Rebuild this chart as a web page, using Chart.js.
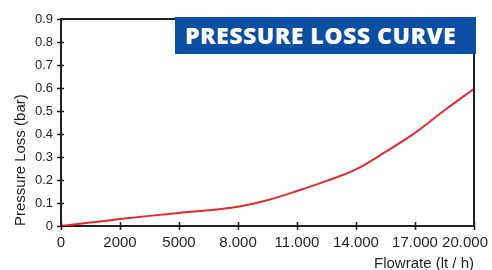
<!DOCTYPE html>
<html>
<head>
<meta charset="utf-8">
<script src="https://cdn.jsdelivr.net/npm/chart.js@4.4.0/dist/chart.umd.min.js"></script>
<style>
  html, body { margin: 0; padding: 0; background: #fff; }
  #wrap { position: relative; width: 492px; height: 270px; overflow: hidden; }
  #banner {
    position: absolute; left: 175px; top: 17px; width: 301px; height: 37px;
    background: #0b4ea2; color: #fff;
    font-family: "Open Sans", "Liberation Sans", sans-serif; font-weight: 800;
    font-size: 23px; letter-spacing: 0.5px; line-height: 37px; padding-left: 10px; box-sizing: border-box;
    white-space: nowrap;
  }
</style>
</head>
<body>
<div id="wrap">
  <canvas id="c" width="492" height="270"></canvas>
  <div id="banner">PRESSURE LOSS CURVE</div>
</div>
<script>
// Tick labels (evenly spaced positions 0..7 on the x axis)
const tickLabels = ["0", "2000", "5000", "8.000", "11.000", "14.000", "17.000", "20.000"];
// Curve points: position along the tick scale, and pressure loss (bar)
const curvePos  = [0, 0.5, 1, 1.5, 2, 2.5, 3, 3.5, 4, 4.5, 5, 5.5, 6, 6.5, 7];
const curveLoss = [0, 0.015, 0.030, 0.044, 0.057, 0.068, 0.084, 0.112, 0.152, 0.196, 0.246, 0.322, 0.405, 0.503, 0.597];

const axisColor = '#231f20';
const fontFamily = 'Liberation Sans, Arial, sans-serif';

const frameAndTicks = {
  id: 'frameAndTicks',
  afterDraw(chart) {
    const ctx = chart.ctx, a = chart.chartArea;
    const xs = chart.scales.x, ys = chart.scales.y;
    ctx.save();
    ctx.strokeStyle = axisColor;
    ctx.lineWidth = 2;
    ctx.beginPath();
    ctx.moveTo(a.left, a.top); ctx.lineTo(a.right, a.top); ctx.lineTo(a.right, a.bottom);
    ctx.stroke();
    ctx.lineWidth = 1.5;
    ctx.beginPath();
    xs.ticks.forEach(t => {
      const px = Math.round(xs.getPixelForValue(t.value)) + 0.5;
      ctx.moveTo(px, a.bottom - 4); ctx.lineTo(px, a.bottom + 4);
    });
    ys.ticks.forEach(t => {
      const py = Math.round(ys.getPixelForValue(t.value)) + 0.5;
      ctx.moveTo(a.left - 4, py); ctx.lineTo(a.left + 3, py);
    });
    ctx.stroke();
    // x tick labels, kept inside the picture
    ctx.fillStyle = axisColor;
    ctx.font = '15px ' + fontFamily;
    ctx.textBaseline = 'top';
    ctx.textAlign = 'left';
    xs.ticks.forEach(t => {
      const label = tickLabels[t.value];
      const w = ctx.measureText(label).width;
      let x = xs.getPixelForValue(t.value) - w / 2;
      if (x + w > 488) x = 488 - w;
      ctx.fillText(label, x, a.bottom + 9);
    });
    ctx.restore();
  }
};

new Chart(document.getElementById('c'), {
  type: 'line',
  data: {
    datasets: [{
      data: curvePos.map((p, i) => ({ x: p, y: curveLoss[i] })),
      borderColor: '#e8282d',
      borderWidth: 2,
      pointRadius: 0,
      cubicInterpolationMode: 'monotone',
      fill: false
    }]
  },
  options: {
    responsive: false,
    animation: false,
    layout: { padding: { left: 0, right: 18, top: 19, bottom: -3 } },
    plugins: { legend: { display: false }, tooltip: { enabled: false } },
    scales: {
      x: {
        type: 'linear', min: 0, max: 7,
        afterFit: s => { s.paddingLeft = 0; s.paddingRight = 0; s.height = 47; },
        border: { color: axisColor, width: 2 },
        grid: { drawOnChartArea: false, tickLength: 4, color: 'rgba(0,0,0,0)' },
        ticks: { display: false, stepSize: 1, autoSkip: false, maxRotation: 0 },
        title: {
          display: true, text: 'Flowrate (lt / h)', align: 'end',
          color: axisColor, font: { family: fontFamily, size: 15 },
          padding: { top: 0, bottom: 0 }
        }
      },
      y: {
        min: 0, max: 0.9,
        afterFit: s => { s.width = 61; s.paddingTop = 0; s.paddingBottom = 0; },
        border: { color: axisColor, width: 2 },
        grid: { drawOnChartArea: false, tickLength: 4, color: 'rgba(0,0,0,0)' },
        ticks: {
          stepSize: 0.1, padding: 4,
          color: axisColor, font: { family: fontFamily, size: 13 },
          callback: v => String(Math.round(v * 10) / 10)
        },
        title: {
          display: true, text: 'Pressure Loss (bar)', align: 'start',
          color: axisColor, font: { family: fontFamily, size: 15 },
          padding: { top: 12, bottom: 0 }
        }
      }
    }
  },
  plugins: [frameAndTicks]
});
</script>
</body>
</html>
